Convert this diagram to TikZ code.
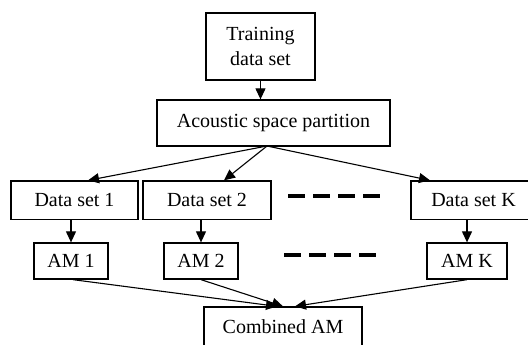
\documentclass[tikz,border=0pt]{standalone}
\usepackage{fontspec}
\setmainfont{Liberation Serif}
\usetikzlibrary{arrows.meta,calc}

\tikzset{
  box/.style={draw, line width=1.3bp, inner sep=0pt, align=center,
    font=\fontsize{20bp}{25bp}\selectfont},
  link/.style={line width=1.1bp, -{Triangle[length=11bp,width=10bp]}},
  etc/.style={line width=4bp, dash pattern=on 17bp off 8bp}
}

\begin{document}
\begin{tikzpicture}[x=1bp,y=-1bp]
  \clip (0,0) rectangle (528,344);

  % source data and partitioning
  \node[box, minimum width=109bp, minimum height=67bp] (train) at (260.5,46.5) {Training\\data set};
  \node[box, minimum width=233bp, minimum height=46bp] (part) at (273.5,123) {Acoustic space partition};

  % partitioned data sets
  \node[box, minimum width=127bp, minimum height=38.5bp] (ds1) at (74.5,200.25) {Data set 1};
  \node[box, minimum width=128bp, minimum height=38.5bp] (ds2) at (207,200.25) {Data set 2};
  \node[box, minimum width=125bp, minimum height=38.5bp] (dsk) at (473.5,200.25) {Data set K};

  % acoustic models
  \node[box, minimum width=74bp, minimum height=36bp] (am1) at (71,261) {AM 1};
  \node[box, minimum width=74bp, minimum height=36bp] (am2) at (201,261) {AM 2};
  \node[box, minimum width=80bp, minimum height=36bp] (amk) at (467,261) {AM K};

  % merged model
  \node[box, minimum width=158bp, minimum height=38.5bp] (comb) at (283,326.25) {Combined AM};

  % omitted intermediate sets and models
  \coordinate (gapA) at (288,196);
  \coordinate (gapB) at (381,196);
  \coordinate (gapC) at (284,255);
  \coordinate (gapD) at (377,255);
  \draw[etc] (gapA) -- (gapB);
  \draw[etc] (gapC) -- (gapD);

  % connectors
  \draw[link] (train.south) -- (part.north -| train.south);
  \coordinate (split) at (267,146);
  \draw[link] (split) -- ([xshift=13.5bp]ds1.north);
  \draw[link] (split) -- ([xshift=17bp]ds2.north);
  \draw[link] (split) -- ([xshift=-43.5bp]dsk.north);

  \draw[link] (am1.north |- ds1.south) -- (am1.north);
  \draw[link] (am2.north |- ds2.south) -- (am2.north);
  \draw[link] (amk.north |- dsk.south) -- (amk.north);

  \draw[link] ([xshift=2bp]am1.south) -- ([xshift=-6bp]comb.north);
  \draw[link] (am2.south) -- (comb.north);
  \draw[link] (amk.south) -- ([xshift=12bp]comb.north);
\end{tikzpicture}
\end{document}
